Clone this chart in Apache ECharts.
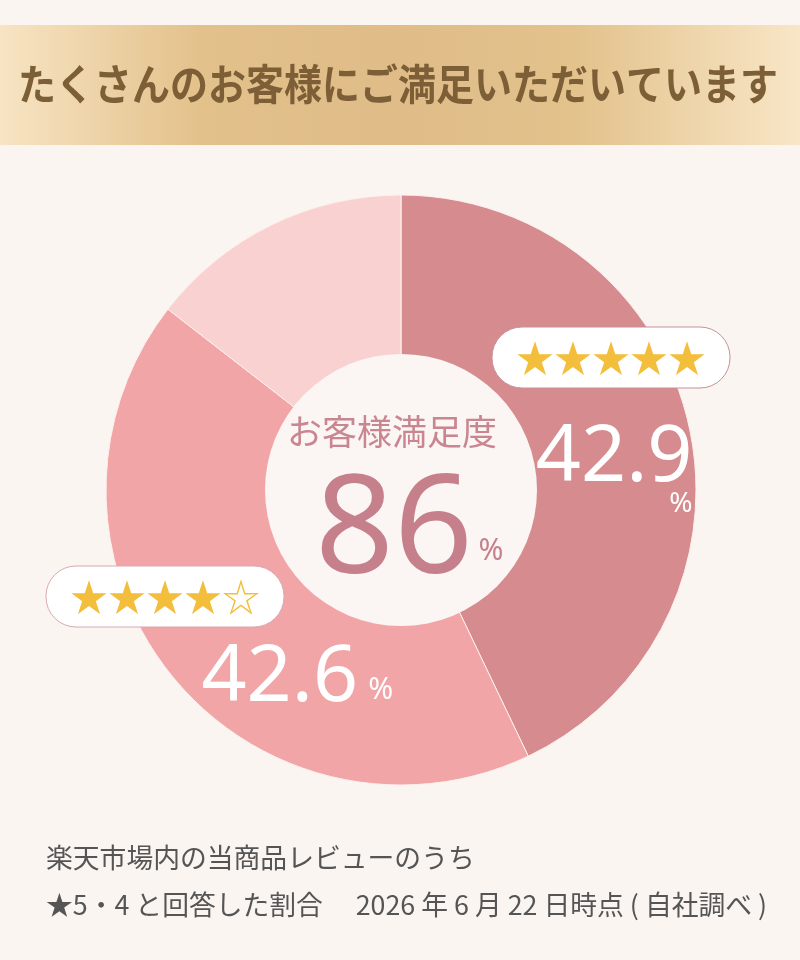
<!DOCTYPE html>
<html>
<head>
<meta charset="utf-8">
<script src="https://cdn.jsdelivr.net/npm/echarts@6/dist/echarts.min.js"></script>
<style>
  html, body { margin: 0; padding: 0; background: #faf5f1; }
  #chart { width: 800px; height: 960px; }
</style>
</head>
<body>
<div id="chart"></div>
<script>
// data
var sliceNames = ['★5', '★4', 'その他'];
var sliceValues = [42.9, 42.6, 14.5];
var sliceColors = ['#d68c8f', '#f2a5a6', '#f9d1d1'];
var starLabels = ['★★★★★', '★★★★☆'];
var totalScore = 86;
var titleText = 'たくさんのお客様にご満足いただいています';
var centerTitle = 'お客様満足度';
var noteLines = [
	'楽天市場内の当商品レビューのうち',
	'★5・4 と回答した割合　 2026 年 6 月 22 日時点 ( 自社調べ )'
];

var myChart = echarts.init(document.getElementById('chart'));

// label tweaks per slice: offset from the default inside spot, and layout of the %
var labelOffsets = [[3, 27], [64, 53], [0, 0]];
var labelFormats = ['{num|{v}}\n{pctBelow|%}', '{num|{v}}{pct|%}', ''];

function getSliceData(){
	var data = [];
	for (var i = 0; i < sliceValues.length; i++) {
		data.push({
			name: sliceNames[i],
			value: sliceValues[i],
			itemStyle: { color: sliceColors[i] },
			label: {
				show: i < 2,
				offset: labelOffsets[i],
				formatter: labelFormats[i].replace('{v}', sliceValues[i].toFixed(1))
			}
		});
	}
	return data;
}

function starBadge(x, y, text, stroke){
	return [
		{
			type: 'rect',
			z: 20,
			shape: { x: x, y: y, width: 238, height: 61, r: 30 },
			style: { fill: '#ffffff', stroke: stroke, lineWidth: 1 }
		},
		{
			type: 'text',
			z: 21,
			x: x + 119,
			y: y + 31,
			style: {
				text: text,
				fill: '#f3be3b',
				font: '38px "Noto Sans CJK JP"',
				align: 'center',
				verticalAlign: 'middle'
			}
		}
	];
}

var graphics = [
	{
		type: 'rect',
		z: 0,
		shape: { x: 0, y: 25, width: 800, height: 120 },
		style: {
			fill: new echarts.graphic.LinearGradient(0, 0, 1, 0, [
				{ offset: 0, color: '#f7e4c3' },
				{ offset: 0.25, color: '#e3c18b' },
				{ offset: 0.5, color: '#dfbc88' },
				{ offset: 0.72, color: '#e3c28c' },
				{ offset: 1, color: '#f8e6c6' }
			])
		}
	},
	{
		type: 'text',
		z: 1,
		x: 398,
		y: 84,
		scaleY: 1.12,
		style: {
			text: titleText,
			fill: '#7c5e37',
			font: 'bold 38px "Noto Sans CJK JP"',
			align: 'center',
			verticalAlign: 'middle'
		}
	},
	{
		type: 'circle',
		z: 10,
		shape: { cx: 401, cy: 490, r: 136 },
		style: { fill: '#fbf5f3' }
	},
	{
		type: 'text',
		z: 11,
		x: 392,
		y: 432,
		style: {
			text: centerTitle,
			fill: '#c98690',
			font: '35px "Noto Sans CJK JP"',
			align: 'center',
			verticalAlign: 'middle'
		}
	},
	{
		type: 'text',
		z: 11,
		x: 394,
		y: 603,
		style: {
			text: String(totalScore),
			fill: '#c6808c',
			font: '138px "Noto Sans"',
			align: 'center',
			verticalAlign: 'bottom'
		}
	},
	{
		type: 'text',
		z: 11,
		x: 491,
		y: 551,
		style: {
			text: '%',
			fill: '#c6808c',
			font: '30px "Noto Sans"',
			align: 'center',
			verticalAlign: 'middle'
		}
	},
	{
		type: 'text',
		z: 12,
		x: 46,
		y: 858,
		style: {
			text: noteLines[0],
			fill: '#555555',
			font: '26.8px "Noto Sans CJK JP"',
			verticalAlign: 'middle'
		}
	},
	{
		type: 'text',
		z: 12,
		x: 46,
		y: 905,
		style: {
			text: noteLines[1],
			fill: '#555555',
			font: '26.8px "Noto Sans CJK JP"',
			verticalAlign: 'middle'
		}
	}
];
graphics = graphics.concat(starBadge(492, 327, starLabels[0], '#c98f9a'));
graphics = graphics.concat(starBadge(46, 566, starLabels[1], '#d9a8b2'));

var option = {
	backgroundColor: '#faf5f1',
	animation: false,
	graphic: graphics,
	series: [
		{
			type: 'pie',
			center: [401, 490],
			radius: [130, 295],
			startAngle: 90,
			clockwise: true,
			silent: true,
			z: 2,
			itemStyle: {
				borderColor: '#fdf0ee',
				borderWidth: 1
			},
			label: {
				position: 'inside',
				color: '#ffffff',
				rich: {
					num: {
						fontFamily: 'Noto Sans',
						fontSize: 79,
						lineHeight: 70,
						color: '#ffffff'
					},
					pct: {
						fontFamily: 'Noto Sans',
						fontSize: 30,
						color: '#ffffff',
						verticalAlign: 'bottom',
						padding: [0, 0, 8, 10]
					},
					pctBelow: {
						fontFamily: 'Noto Sans',
						fontSize: 28,
						lineHeight: 22,
						color: '#ffffff',
						align: 'right'
					}
				}
			},
			labelLine: { show: false },
			data: getSliceData()
		}
	]
};

myChart.setOption(option);
</script>
</body>
</html>
